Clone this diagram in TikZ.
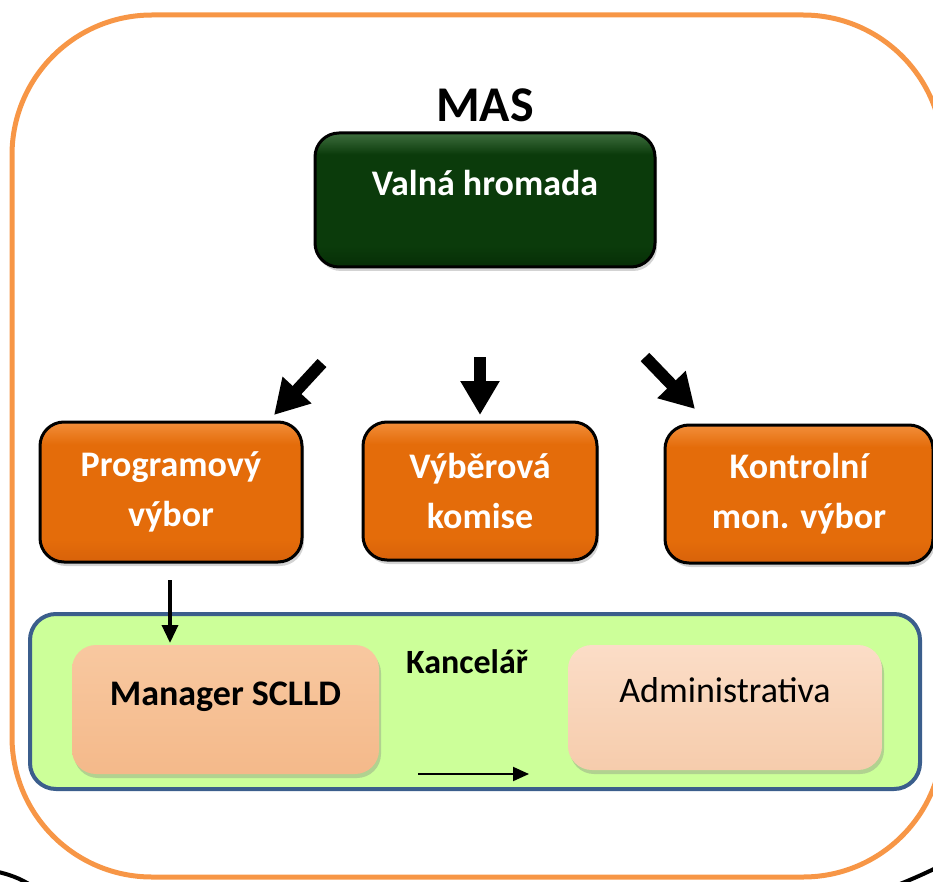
\documentclass[tikz,border=0pt]{standalone}
\usepackage{fontspec}
\setmainfont{Carlito}
\usetikzlibrary{arrows.meta,shadows}
\definecolor{outerorange}{HTML}{F79646}
\definecolor{kancblue}{HTML}{3B5E8C}
\definecolor{kancgreen}{HTML}{CCFF99}
\definecolor{vgreenT}{HTML}{3E6E3E}
\definecolor{vgreenM}{HTML}{0B3B0B}
\definecolor{vgreenB}{HTML}{062E06}
\definecolor{orT}{HTML}{F28E3A}
\definecolor{orM}{HTML}{E46C0A}
\definecolor{orB}{HTML}{D8620A}
\definecolor{mgrT}{HTML}{F8C8A0}
\definecolor{mgrB}{HTML}{F4B98A}
\definecolor{admT}{HTML}{FBDDC7}
\definecolor{admB}{HTML}{F6CCAC}
\pgfdeclareverticalshading{vgreenshade}{100bp}{color(0bp)=(vgreenB); color(25bp)=(vgreenB);
  color(33bp)=(vgreenM); color(67bp)=(vgreenM); color(75bp)=(vgreenT); color(100bp)=(vgreenT)}
\pgfdeclareverticalshading{orangeshade}{100bp}{color(0bp)=(orB); color(25bp)=(orB);
  color(33bp)=(orM); color(67bp)=(orM); color(75bp)=(orT); color(100bp)=(orT)}
\begin{document}
\begin{tikzpicture}[x=1pt,y=-1pt,
  boxshadow/.style={drop shadow={opacity=0.35,shadow xshift=2pt,shadow yshift=-4pt}},
  greenbox/.style={draw=black,line width=3pt,rounded corners=24pt,boxshadow,
    shading=vgreenshade,
    text=white,font=\fontsize{36}{50}\selectfont\bfseries,inner sep=0pt},
  orangebox/.style={draw=black,line width=3pt,rounded corners=24pt,boxshadow,
    shading=orangeshade,align=center,
    text=white,font=\fontsize{36}{50}\selectfont\bfseries,inner sep=0pt},
  peachbox/.style={rounded corners=24pt,boxshadow,inner sep=0pt,text=black},
  blockarrow/.style={line width=12pt,-{Triangle[length=34pt,width=37pt]}},
  thinarrow/.style={line width=3.5pt,-{Triangle[length=18pt,width=16pt]}},
  hairarrow/.style={line width=2pt,-{Triangle[length=16pt,width=14pt]}}
]
\useasboundingbox (0,0) rectangle (933,882);
\begin{scope}
\clip (0,0) rectangle (933,882);
% outer frame
\draw[outerorange,line width=5pt,rounded corners=140pt] (12,15) rectangle (943,877);
% black corner arcs
\draw[line width=4pt] (-6,871) .. controls (8,874) and (20,878) .. (32,886);
\draw[line width=4pt] (895,886) .. controls (910,880) and (924,874) .. (940,866);

% title
\node[anchor=base,font=\fontsize{50}{60}\selectfont\bfseries] (mas) at (485,122) {MAS};

% top box
\node[greenbox,minimum width=340pt,minimum height=134pt,text height=25pt,text depth=33pt]
  (valna) at (485,200) {Valná hromada};

% committees
\node[orangebox,minimum width=262pt,minimum height=140pt] (prog) at (171,492) {Programový\\výbor};
\node[orangebox,minimum width=234pt,minimum height=138pt] (vyber) at (480,491) {Výběrová\\komise};
\node[orangebox,minimum width=268pt,minimum height=138pt] (kontr) at (799,494) {Kontrolní\\mon. výbor};

% office
\node[draw=kancblue,fill=kancgreen,line width=4pt,rounded corners=26pt,
  minimum width=890pt,minimum height=175pt] (kanc) at (475,701.5) {};
\node[anchor=base,font=\fontsize{34}{40}\selectfont\bfseries] (kanctext) at (467,673) {Kancelář};
\node[peachbox,top color=mgrT,bottom color=mgrB,minimum width=307pt,minimum height=129pt,
  font=\fontsize{36}{44}\selectfont\bfseries,text height=25pt,text depth=34pt]
  (mgr) at (225.5,709.5) {Manager SCLLD};
\node[peachbox,top color=admT,bottom color=admB,minimum width=314pt,minimum height=125pt,
  font=\fontsize{36}{44}\selectfont,text height=25pt,text depth=36pt]
  (admin) at (725,707.5) {Administrativa};

% connectors
\coordinate (a1s) at (322,363); \coordinate (a1e) at (274,415);
\coordinate (a2s) at (480,357); \coordinate (a2e) at (480,415);
\coordinate (a3s) at (645,357); \coordinate (a3e) at (695,409);
\draw[blockarrow] (a1s) -- (a1e);
\draw[blockarrow] (a2s) -- (a2e);
\draw[blockarrow] (a3s) -- (a3e);

\coordinate (b1s) at (170,580); \coordinate (b1e) at (170,643);
\draw[thinarrow] (b1s) -- (b1e);
\coordinate (c1s) at (418,774); \coordinate (c1e) at (529,774);
\draw[hairarrow] (c1s) -- (c1e);
\end{scope}
\end{tikzpicture}
\end{document}
